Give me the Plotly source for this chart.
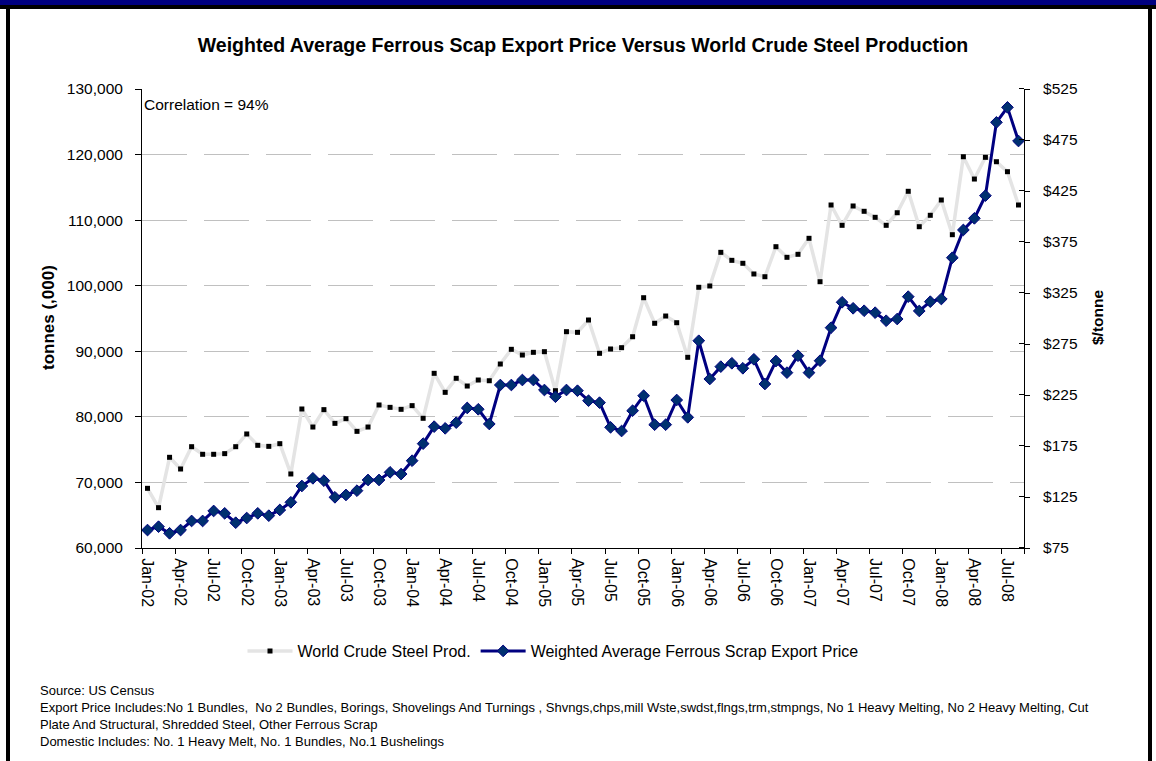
import plotly.graph_objects as go

# ---------------- data ----------------
month_names = ["Jan", "Feb", "Mar", "Apr", "May", "Jun", "Jul", "Aug", "Sep", "Oct", "Nov", "Dec"]
years = ["02", "03", "04", "05", "06", "07", "08"]
months = [f"{m}-{y}" for y in years for m in month_names][:80]  # Jan-02 .. Aug-08

steel_prod = [69100, 66150, 73830, 72050, 75450, 74290, 74290, 74390, 75450, 77390,
              75660, 75500, 75910, 71290, 81200, 78450, 81100, 79010, 79720, 77790,
              78450, 81810, 81450, 81150, 81710, 79780, 86640, 83740, 85880, 84700,
              85620, 85510, 88060, 90300, 89430, 89840, 89940, 83990, 92990, 92890,
              94770, 89690, 90350, 90550, 92220, 98170, 94270, 95380, 94360, 89080,
              99760, 99960, 105090, 103870, 103420, 101790, 101370, 105950, 104330, 104790,
              107230, 100610, 112310, 109210, 112160, 111350, 110430, 109210, 111130, 114400,
              109000, 110740, 113070, 107780, 119670, 116270, 119580, 118910, 117390, 112310]

export_price = [92.6, 95.9, 89.4, 92.6, 101.5, 101.5, 111.3, 109.0, 99.8, 104.4,
                109.0, 106.7, 112.3, 119.8, 135.8, 143.3, 141.0, 124.7, 127.0, 131.2,
                141.7, 141.7, 149.2, 147.5, 160.6, 177.3, 194.0, 192.3, 197.9, 212.3,
                211.0, 196.6, 234.8, 234.8, 239.7, 239.7, 229.9, 223.3, 229.9, 229.2,
                219.4, 217.5, 193.3, 189.7, 209.6, 224.3, 195.9, 195.9, 220.1, 203.1,
                278.2, 240.7, 252.8, 256.1, 251.2, 260.0, 235.8, 258.3, 246.9, 263.5,
                246.9, 258.6, 291.0, 315.9, 310.0, 307.6, 305.7, 297.8, 299.5, 321.4,
                307.4, 316.5, 319.1, 359.6, 386.8, 398.2, 420.4, 492.3, 507.0, 474.0]

left_ticks = [60000, 70000, 80000, 90000, 100000, 110000, 120000, 130000]
right_ticks = [75, 125, 175, 225, 275, 325, 375, 425, 475, 525]
right_labels = [f"${v}" for v in right_ticks]

title_text = "Weighted Average Ferrous Scap Export Price Versus World Crude Steel Production"
footnote = ("Source: US Census<br>"
            "Export Price Includes:No 1 Bundles,  No 2 Bundles, Borings, Shovelings And Turnings , "
            "Shvngs,chps,mill Wste,swdst,flngs,trm,stmpngs, No 1 Heavy Melting, No 2 Heavy Melting, Cut<br>"
            "Plate And Structural, Shredded Steel, Other Ferrous Scrap<br>"
            "Domestic Includes: No. 1 Heavy Melt, No. 1 Bundles, No.1 Bushelings")

# ---------------- layout geometry ----------------
W, H = 1156, 761
ML, MR, MT, MB = 142, 132, 89, 213
PW = W - ML - MR
PH = H - MT - MB


def px(x):
    return (x - ML) / PW


def py(y):
    return (H - MB - y) / PH


FONT = "Liberation Sans, Arial, sans-serif"
idx = list(range(len(months)))

fig = go.Figure()
fig.add_trace(go.Scatter(
    x=idx, y=steel_prod, name="World Crude Steel Prod.", mode="lines+markers",
    line=dict(color="#e4e4e4", width=3.5),
    marker=dict(symbol="square", size=5, color="black"),
    customdata=months, hovertemplate="%{customdata}: %{y:,}<extra></extra>",
))
fig.add_trace(go.Scatter(
    x=idx, y=export_price, name="Weighted Average Ferrous Scrap Export Price",
    mode="lines+markers", yaxis="y2",
    line=dict(color="#000080", width=3),
    marker=dict(symbol="diamond", size=9, color="#003070", line=dict(color="#000080", width=1)),
    customdata=months, hovertemplate="%{customdata}: $%{y}<extra></extra>",
))

tick_font = dict(family=FONT, size=15.5, color="black")

fig.update_layout(
    width=W, height=H,
    margin=dict(l=ML, r=MR, t=MT, b=MB),
    paper_bgcolor="white", plot_bgcolor="white",
    font=dict(family=FONT, color="black"),
    title=dict(text=title_text, font=dict(family=FONT, size=19.5, weight="bold", color="black"),
               x=0.5, xref="paper", xanchor="center",
               y=1 - 45 / H, yref="container", yanchor="middle"),
    showlegend=True,
    legend=dict(orientation="h", x=px(553), xanchor="center", y=py(651), yanchor="middle",
                font=dict(family=FONT, size=16, color="black"), bgcolor="rgba(0,0,0,0)",
                itemwidth=45),
    xaxis=dict(
        range=[-0.5, len(months) - 0.5], showgrid=False, zeroline=False,
        showline=True, linecolor="black", linewidth=1,
        tickmode="array", tickvals=idx[::3], ticktext=months[::3],
        ticks="", tickangle=90, tickfont=dict(family=FONT, size=16, color="black"),
        ticklabelstandoff=6,
        minor=dict(tickmode="array", tickvals=[i - 0.5 for i in idx[::3]] + [len(months) - 0.5],
                   ticks="outside", ticklen=5, tickcolor="black", tickwidth=1, showgrid=False),
    ),
    yaxis=dict(
        range=[left_ticks[0], left_ticks[-1]], tickmode="array", tickvals=left_ticks,
        tickformat=",", ticks="outside", ticklen=6, tickcolor="black",
        showline=True, linecolor="black", linewidth=1, zeroline=False,
        showgrid=True, gridcolor="#c0c0c0", gridwidth=1, griddash="45px,17px",
        tickfont=tick_font, ticklabelstandoff=9,
    ),
    yaxis2=dict(
        range=[right_ticks[0], right_ticks[-1]], overlaying="y", side="right",
        tickmode="array", tickvals=right_ticks, ticktext=right_labels,
        ticks="outside", ticklen=5, tickcolor="black",
        showline=True, linecolor="black", linewidth=1, zeroline=False, showgrid=False,
        tickfont=tick_font, ticklabelstandoff=10,
        minor=dict(tickmode="array", tickvals=[v + 0.01 for v in right_ticks],
                   ticks="inside", ticklen=5, tickcolor="black", showgrid=False),
    ),
)

annotations = [
    dict(text="Correlation = 94%", x=px(142), y=py(104), xref="paper", yref="paper",
         xanchor="left", yanchor="middle", showarrow=False,
         font=dict(family=FONT, size=15.5, color="black")),
    dict(text="<b>tonnes (,000)</b>", x=px(48), y=py(318), xref="paper", yref="paper",
         textangle=-90, xanchor="center", yanchor="middle", showarrow=False,
         font=dict(family=FONT, size=17, color="black")),
    dict(text="<b>$/tonne</b>", x=px(1097), y=py(318), xref="paper", yref="paper",
         textangle=-90, xanchor="center", yanchor="middle", showarrow=False,
         font=dict(family=FONT, size=15.5, color="black")),
    dict(text=footnote, x=px(38), y=py(681), xref="paper", yref="paper",
         xanchor="left", yanchor="top", align="left", showarrow=False,
         font=dict(family=FONT, size=13, color="black")),
]
fig.update_layout(annotations=annotations)

shapes = [
    dict(type="rect", xref="paper", yref="paper", x0=px(0), x1=px(W), y0=py(0), y1=py(5),
         fillcolor="#000080", line=dict(width=0)),
    dict(type="rect", xref="paper", yref="paper", x0=px(0), x1=px(W), y0=py(5), y1=py(9),
         fillcolor="black", line=dict(width=0)),
    dict(type="rect", xref="paper", yref="paper", x0=px(6), x1=px(10), y0=py(5), y1=py(H + 5),
         fillcolor="black", line=dict(width=0)),
    dict(type="rect", xref="paper", yref="paper", x0=px(1148), x1=px(1152), y0=py(5), y1=py(H + 5),
         fillcolor="black", line=dict(width=0)),
]
fig.update_layout(shapes=shapes)

fig.write_html(
    "out.html",
    config={"displayModeBar": False},
    post_script="document.body.style.margin='0px';document.body.style.overflow='hidden';",
)
